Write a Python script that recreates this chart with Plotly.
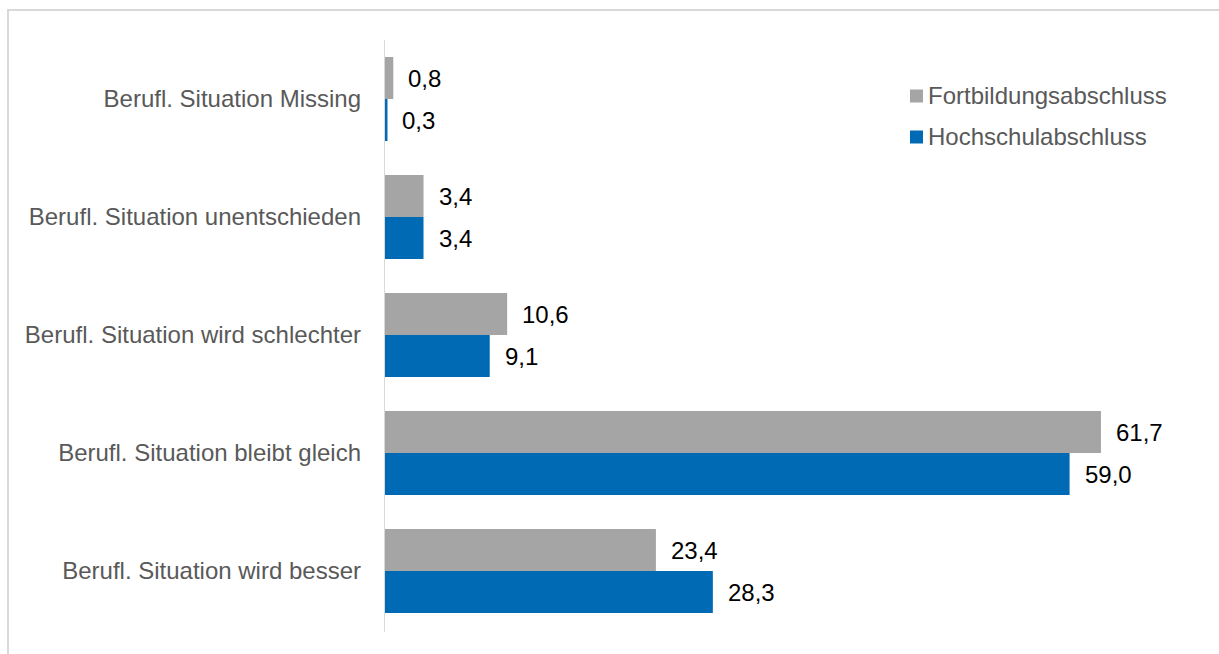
import plotly.graph_objects as go

categories = [
    "Berufl. Situation Missing",
    "Berufl. Situation unentschieden",
    "Berufl. Situation wird schlechter",
    "Berufl. Situation bleibt gleich",
    "Berufl. Situation wird besser",
]
fortbildung = [0.8, 3.4, 10.6, 61.7, 23.4]
hochschule = [0.3, 3.4, 9.1, 59.0, 28.3]
series_names = ["Fortbildungsabschluss", "Hochschulabschluss"]

GRAY = "#A5A5A5"
BLUE = "#006AB4"
FONT = "Liberation Sans, Arial"

W, H = 1219, 654
L, R, T, B = 384, 0, 40, 24
plot_w = W - L - R
plot_h = H - T - B
px_per_unit = 11.62
x_max = plot_w / px_per_unit


def fmt(v):
    return f"{v:.1f}".replace(".", ",")


def px_x(x):
    return (x - L) / plot_w


def px_y(y):
    return (H - B - y) / plot_h


fig = go.Figure()
series = [(series_names[0], fortbildung, GRAY), (series_names[1], hochschule, BLUE)]
for name, vals, col in series:
    fig.add_trace(go.Bar(
        name=name, y=categories, x=vals, orientation="h",
        marker=dict(color=col, line=dict(width=0)),
        hoverinfo="skip", showlegend=False,
    ))

# value labels beside each bar
n = len(categories)
for i, cat in enumerate(categories):
    for vals, off in [(fortbildung, -0.178), (hochschule, 0.178)]:
        fig.add_annotation(
            x=vals[i], y=i + off, xref="x", yref="y",
            text=fmt(vals[i]), showarrow=False,
            xanchor="left", yanchor="middle", xshift=13,
            font=dict(family=FONT, size=24, color="#000000"),
        )

# legend: colour square followed by series name
for k, (name, vals, col) in enumerate(series):
    cy = 96 + 41 * k
    fig.add_shape(
        type="rect", xref="paper", yref="paper",
        x0=px_x(910), x1=px_x(923), y0=px_y(cy + 6.5), y1=px_y(cy - 6.5),
        fillcolor=col, line=dict(width=0),
    )
    fig.add_annotation(
        x=px_x(926), y=px_y(cy), xref="paper", yref="paper",
        text=name, showarrow=False, xanchor="left", yanchor="middle",
        font=dict(family=FONT, size=24, color="#595959"),
    )

# light frame around the chart area
fig.add_shape(
    type="rect", xref="paper", yref="paper",
    x0=px_x(8), x1=1.2,
    y0=-0.2, y1=px_y(10),
    line=dict(color="#D9D9D9", width=2), fillcolor="rgba(0,0,0,0)",
    layer="below",
)

fig.update_layout(
    width=W, height=H,
    margin=dict(l=L, r=R, t=T, b=B, pad=0),
    paper_bgcolor="white", plot_bgcolor="white",
    barmode="group", bargap=0.288, bargroupgap=0,
    font=dict(family=FONT, size=24, color="#595959"),
    showlegend=False,
    xaxis=dict(
        range=[0, x_max], showgrid=False, zeroline=False,
        showticklabels=False, showline=False, fixedrange=True,
    ),
    yaxis=dict(
        categoryorder="array", categoryarray=categories,
        range=[n - 0.5, -0.5],
        showgrid=False, zeroline=False, showline=False, ticks="",
        ticklabelstandoff=22, fixedrange=True,
    ),
)

# category axis line at zero
fig.add_shape(
    type="line", xref="x", yref="paper", x0=0, x1=0, y0=-0.003, y1=1.0,
    line=dict(color="#D9D9D9", width=2),
)

fig.write_html("out.html")
